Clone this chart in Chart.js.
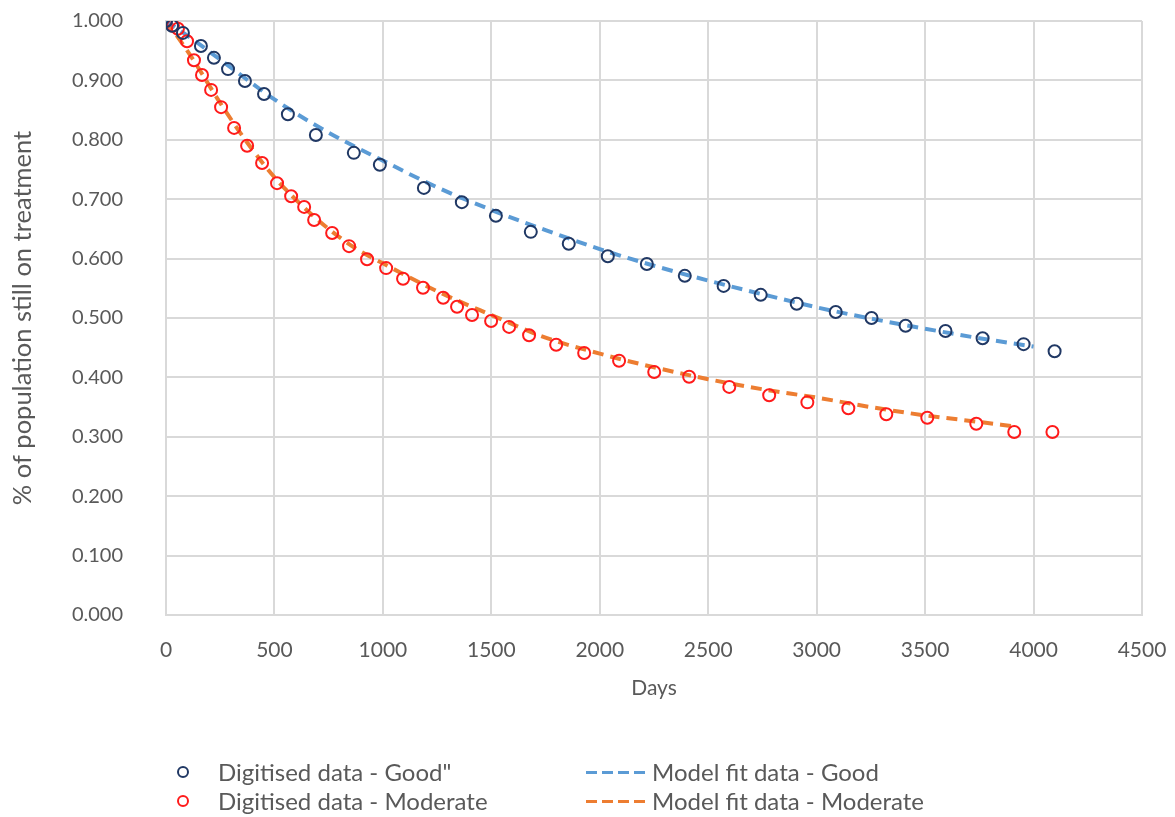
<!DOCTYPE html>
<html>
<head>
<meta charset="utf-8">
<script src="https://cdn.jsdelivr.net/npm/chart.js@4"></script>
<style>
  body { margin: 0; background: #fff; font-family: Lato, sans-serif; }
  #wrap { position: relative; width: 1175px; height: 817px; }
  .leg { position: absolute; display: flex; align-items: center; font-size: 24px; line-height: 28px; color: #595959; white-space: nowrap; }
  .dot { width: 8px; height: 8px; border-radius: 50%; border: 2px solid; margin-right: 29px; }
  .dash { width: 60px; height: 3px; margin-right: 6px; }
</style>
</head>
<body>
<div id="wrap">
  <canvas id="chart" width="1175" height="817"></canvas>
  <div class="leg" style="left:177px; top:758px;"><span class="dot" style="border-color:#203864"></span>Digitised data - Good"</div>
  <div class="leg" style="left:177px; top:787px;"><span class="dot" style="border-color:#ff1a1a"></span>Digitised data - Moderate</div>
  <div class="leg" style="left:586px; top:758px;"><span class="dash" style="background:repeating-linear-gradient(to right,#5b9bd5 0 11px,transparent 11px 16px)"></span>Model fit data - Good</div>
  <div class="leg" style="left:586px; top:787px;"><span class="dash" style="background:repeating-linear-gradient(to right,#ed7d31 0 11px,transparent 11px 16px)"></span>Model fit data - Moderate</div>
</div>
<script>
const goodDays = [0, 28, 78, 161, 221, 286, 364, 452, 562, 691, 866, 986, 1189, 1364, 1521, 1682, 1857, 2037, 2217, 2392, 2571, 2742, 2908, 3088, 3253, 3410, 3594, 3765, 3954, 4097];
const goodVals = [1.000, 0.992, 0.980, 0.958, 0.938, 0.919, 0.899, 0.877, 0.843, 0.808, 0.778, 0.758, 0.719, 0.695, 0.672, 0.645, 0.625, 0.604, 0.591, 0.571, 0.554, 0.539, 0.524, 0.510, 0.500, 0.487, 0.478, 0.466, 0.456, 0.444];

const modDays = [0, 32, 55, 97, 129, 166, 208, 254, 314, 374, 443, 512, 577, 637, 683, 766, 844, 927, 1015, 1093, 1185, 1278, 1342, 1411, 1499, 1582, 1674, 1799, 1928, 2089, 2251, 2412, 2597, 2781, 2957, 3146, 3321, 3510, 3736, 3911, 4087];
const modVals = [1.000, 0.992, 0.987, 0.966, 0.934, 0.909, 0.884, 0.855, 0.820, 0.790, 0.761, 0.727, 0.705, 0.687, 0.665, 0.643, 0.621, 0.599, 0.584, 0.566, 0.551, 0.534, 0.519, 0.505, 0.495, 0.485, 0.471, 0.455, 0.441, 0.428, 0.409, 0.401, 0.384, 0.370, 0.358, 0.348, 0.338, 0.332, 0.322, 0.308, 0.308];

// model fit curves (read at regular steps)
const fitGoodDays = [0, 100, 250, 500, 750, 1000, 1250, 1500, 1750, 2000, 2250, 2500, 2750, 3000, 3250, 3500, 3750, 4000];
const fitGoodVals = [1.000, 0.975, 0.935, 0.868, 0.812, 0.765, 0.720, 0.682, 0.648, 0.616, 0.588, 0.563, 0.540, 0.518, 0.499, 0.482, 0.466, 0.452];

const fitModDays = [0, 60, 125, 250, 375, 500, 625, 750, 875, 1000, 1250, 1500, 1750, 2000, 2250, 2500, 2750, 3000, 3250, 3500, 3750, 3900];
const fitModVals = [1.000, 0.970, 0.935, 0.862, 0.795, 0.737, 0.690, 0.650, 0.617, 0.592, 0.545, 0.505, 0.467, 0.440, 0.417, 0.397, 0.380, 0.366, 0.350, 0.336, 0.325, 0.318];

const xTicks = [0, 500, 1000, 1500, 2000, 2500, 3000, 3500, 4000, 4500];

function pts(xs, ys) {
    return xs.map((x, i) => ({ x: x, y: ys[i] }));
}

const gray = '#595959';
const gridCol = '#d9d9d9';

const ctx = document.getElementById('chart').getContext('2d');
const chart = new Chart(ctx, {
    type: 'scatter',
    data: {
        datasets: [{
            label: 'Digitised data - Good"',
            data: pts(goodDays, goodVals),
            borderColor: '#203864',
            backgroundColor: 'rgba(0,0,0,0)',
            pointRadius: 6,
            pointBorderWidth: 2,
            showLine: false
        }, {
            label: 'Digitised data - Moderate',
            data: pts(modDays, modVals),
            borderColor: '#ff1a1a',
            backgroundColor: 'rgba(0,0,0,0)',
            pointRadius: 6,
            pointBorderWidth: 2,
            showLine: false
        }, {
            label: 'Model fit data - Good',
            data: pts(fitGoodDays, fitGoodVals),
            borderColor: '#5b9bd5',
            borderWidth: 4,
            borderDash: [11, 7],
            pointRadius: 0,
            showLine: true,
            cubicInterpolationMode: 'monotone'
        }, {
            label: 'Model fit data - Moderate',
            data: pts(fitModDays, fitModVals),
            borderColor: '#ed7d31',
            borderWidth: 4,
            borderDash: [11, 7],
            pointRadius: 0,
            showLine: true,
            cubicInterpolationMode: 'monotone'
        }]
    },
    options: {
        responsive: false,
        animation: false,
        layout: { padding: { left: 0, top: 21, right: 33, bottom: 107 } },
        plugins: {
            legend: { display: false },
            tooltip: { enabled: false }
        },
        scales: {
            x: {
                type: 'linear',
                min: 0,
                max: 4500,
                afterBuildTicks: (s) => { s.ticks = xTicks.map(v => ({ value: v })); },
                // fixed height, and no extra edge padding from the tick labels
                afterFit: (s) => { s.height = 95; s.paddingLeft = 0; s.paddingRight = 0; },
                grid: { color: gridCol, lineWidth: 2, drawTicks: false },
                border: { color: gridCol, width: 2 },
                ticks: { color: gray, font: { family: 'Lato', size: 21 }, padding: 23, maxRotation: 0, callback: (v) => String(v) },
                title: { display: true, text: 'Days', color: gray, font: { family: 'Lato', size: 21 }, padding: { top: 0, bottom: 9 } }
            },
            y: {
                min: 0,
                max: 1,
                afterFit: (s) => { s.width = 166; s.paddingTop = 0; s.paddingBottom = 0; },
                grid: { color: gridCol, lineWidth: 2, drawTicks: false },
                border: { color: gridCol, width: 2 },
                ticks: { stepSize: 0.1, color: gray, font: { family: 'Lato', size: 20 }, padding: 43, callback: (v) => v.toFixed(3) },
                title: { display: true, text: '% of population still on treatment', color: gray, font: { family: 'Lato', size: 25.5 }, padding: { top: 7, bottom: 0 } }
            }
        }
    }
});
</script>
</body>
</html>
